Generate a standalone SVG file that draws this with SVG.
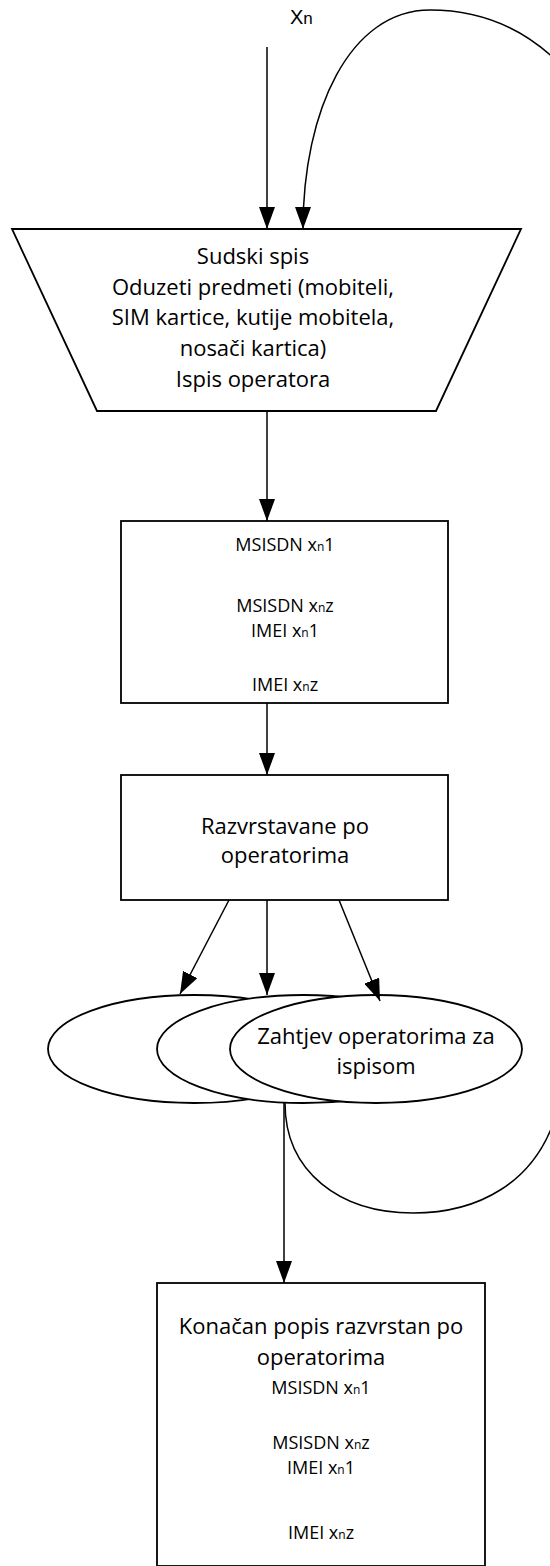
<svg xmlns="http://www.w3.org/2000/svg" width="550" height="1566" viewBox="0 0 550 1566">
<defs>
<style>
.sh{fill:#fff;stroke:#000;stroke-width:1.8}
.cn{fill:none;stroke:#000;stroke-width:1.5}
.t{font-family:"Open Sans","Noto Sans",sans-serif;font-size:22px;fill:#000;text-anchor:middle}
.s{font-family:"Open Sans","Noto Sans",sans-serif;font-size:18px;fill:#000;text-anchor:middle}
.sub{font-size:12px}
.x{font-family:"Liberation Sans",Arial,sans-serif;font-size:20px;fill:#000}
</style>
<marker id="ah" markerUnits="userSpaceOnUse" markerWidth="22" markerHeight="16" refX="22" refY="8" orient="auto">
<path d="M0,0 L22,8 L0,16 z" fill="#000"/>
</marker>
</defs>
<rect width="550" height="1566" fill="#fff"/>

<g id="label-xn"><text class="x" x="290" y="24">X<tspan font-size="17">n</tspan></text></g>

<g id="node-sudski">
<polygon class="sh" points="12,229 521,229 436,411 97,411"/>
<text class="t" x="253" y="264">Sudski spis</text>
<text class="t" x="253" y="295">Oduzeti predmeti (mobiteli,</text>
<text class="t" x="253" y="325">SIM kartice, kutije mobitela,</text>
<text class="t" x="253" y="356">nosači  kartica)</text>
<text class="t" x="253" y="387">Ispis operatora</text>
</g>

<g id="node-msisdn">
<rect class="sh" x="121" y="521" width="327" height="182"/>
<text class="s" x="285" y="551">MSISDN x<tspan class="sub">n</tspan>1</text>
<text class="s" x="285" y="612">MSISDN x<tspan class="sub">n</tspan>z</text>
<text class="s" x="285" y="637">IMEI x<tspan class="sub">n</tspan>1</text>
<text class="s" x="285" y="691">IMEI x<tspan class="sub">n</tspan>z</text>
</g>

<g id="node-razvrstavane">
<rect class="sh" x="121" y="775" width="327" height="125"/>
<text class="t" x="285" y="834">Razvrstavane po</text>
<text class="t" x="285" y="863">operatorima</text>
</g>

<g id="node-ellipses">
<ellipse class="sh" cx="194" cy="1049" rx="146" ry="54"/>
<ellipse class="sh" cx="303" cy="1049" rx="146" ry="54"/>
<ellipse class="sh" cx="376" cy="1049" rx="146" ry="54"/>
<text class="t" x="376" y="1044">Zahtjev operatorima za</text>
<text class="t" x="376" y="1074">ispisom</text>
</g>

<g id="node-konacan">
<rect class="sh" x="157" y="1283" width="328" height="283"/>
<text class="t" x="321" y="1334">Konačan popis razvrstan po</text>
<text class="t" x="321" y="1365">operatorima</text>
<text class="s" x="321" y="1394">MSISDN x<tspan class="sub">n</tspan>1</text>
<text class="s" x="321" y="1449">MSISDN x<tspan class="sub">n</tspan>z</text>
<text class="s" x="321" y="1474">IMEI x<tspan class="sub">n</tspan>1</text>
<text class="s" x="321" y="1539">IMEI x<tspan class="sub">n</tspan>z</text>
</g>

<g id="connectors">
<path class="cn" marker-end="url(#ah)" d="M267,47 L267,229"/>
<path class="cn" marker-end="url(#ah)" d="M285,1103 C285,1172 340,1213 413,1213 C478,1213 535,1183 556,1115 L600,1000 L600,120 L570,75 C535,35 490,10 430,10 C350,10 303,110 303,229"/>
<path class="cn" marker-end="url(#ah)" d="M267,411 L267,521"/>
<path class="cn" marker-end="url(#ah)" d="M267,703 L267,775"/>
<path class="cn" marker-end="url(#ah)" d="M229,900 L180,994"/>
<path class="cn" marker-end="url(#ah)" d="M267,900 L267,995"/>
<path class="cn" marker-end="url(#ah)" d="M339,900 L380,1001"/>
<path class="cn" marker-end="url(#ah)" d="M284,1103 L284,1283"/>
</g>
</svg>
